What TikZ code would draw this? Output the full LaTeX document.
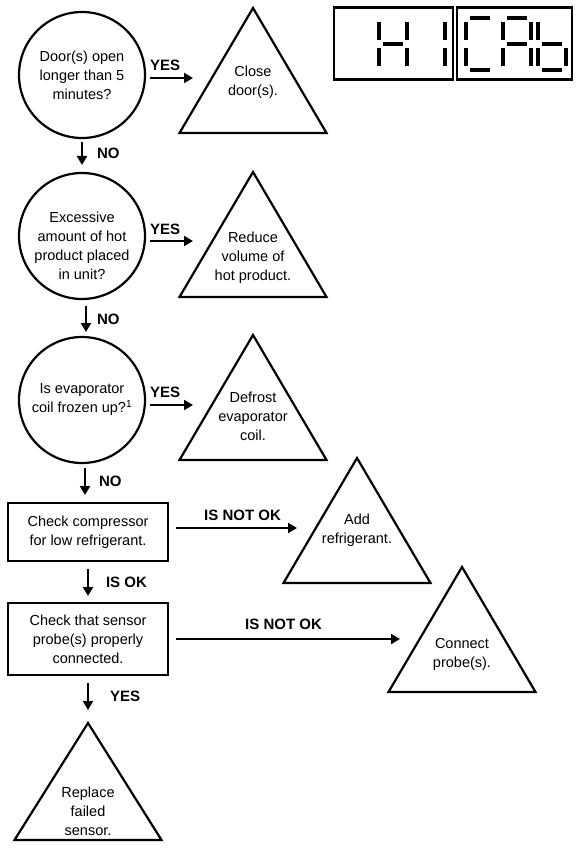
\documentclass[tikz,border=0pt]{standalone}
\usepackage{fontspec}
\setmainfont{Liberation Sans}
\usetikzlibrary{shapes.geometric,arrows.meta}

\tikzset{
	txt/.style={align=center,inner sep=0pt,outer sep=0pt,font=\fontsize{14.5}{19}\selectfont},
	lbl/.style={inner sep=0pt,outer sep=0pt,font=\fontsize{15}{18}\selectfont\bfseries},
	question/.style={txt,draw,circle,line width=2.2pt,minimum size=126},
	stepbox/.style={txt,draw,rectangle,line width=2.2pt,minimum width=160,minimum height=58},
	action/.style={draw,isosceles triangle,isosceles triangle apex angle=60,
		isosceles triangle stretches,shape border rotate=90,
		minimum width=147,minimum height=125,inner sep=0pt,outer sep=0pt,line width=2.2pt},
	arr/.style={line width=2pt,-{Triangle[length=9pt,width=10pt]}},
	display/.style={draw,line width=2.4pt,inner sep=0pt,outer sep=0pt,minimum height=72},
	seg/.style={line width=4.5pt},
	pics/digit/.style={code={
		\foreach \s in {#1}{
			\ifcase\s
			\or \draw[seg] (4,0) -- (24,0);
			\or \draw[seg] (28,4) -- (28,22);
			\or \draw[seg] (28,30) -- (28,48);
			\or \draw[seg] (4,52) -- (24,52);
			\or \draw[seg] (0,30) -- (0,48);
			\or \draw[seg] (0,4) -- (0,22);
			\or \draw[seg] (4,26) -- (24,26);
			\fi
		}
	}}
}

\begin{document}
\begin{tikzpicture}[x=1pt,y=-1pt]
	\useasboundingbox (0,0) rectangle (575,850);

	% code shown on the display
	\node[display,minimum width=119] (dispL) at (393.5,43.5) {};
	\node[display,minimum width=115] (dispR) at (514.5,43.5) {};
	\pic at (379,18) {digit={2,3,5,6,7}};
	\pic at (417,18) {digit={2,3}};
	\pic at (466,18) {digit={1,4,5,6}};
	\pic at (503,18) {digit={1,2,3,5,6,7}};
	\pic at (538,18) {digit={3,4,5,6,7}};

	% questions
	\node[question] (door) at (82,75) {Door(s) open\\longer than 5\\minutes?};
	\node[question] (hot) at (82,236) {};
	\node[txt] (hotTxt) at ([yshift=-10pt]hot.center) {Excessive\\amount of hot\\product placed\\in unit?};
	\node[question] (coil) at (82,400) {Is evaporator\\coil frozen up?\textsuperscript{1}};

	% checks
	\node[stepbox] (comp) at (88,532) {Check compressor\\for low refrigerant.};
	\node[stepbox,minimum height=72] (probe) at (88,639) {Check that sensor\\probe(s) properly\\connected.};

	% actions
	\node[action,anchor=apex] (close) at (253,8) {};
	\node[txt] (closeTxt) at ([yshift=-74pt]close.apex) {Close\\door(s).};
	\node[action,anchor=apex] (reduce) at (253,172) {};
	\node[txt] (reduceTxt) at ([yshift=-86pt]reduce.apex) {Reduce\\volume of\\hot product.};
	\node[action,anchor=apex] (defrost) at (253,335) {};
	\node[txt] (defrostTxt) at ([yshift=-81pt]defrost.apex) {Defrost\\evaporator\\coil.};
	\node[action,anchor=apex] (add) at (357,458) {};
	\node[txt] (addTxt) at ([yshift=-72pt]add.apex) {Add\\refrigerant.};
	\node[action,anchor=apex] (connect) at (462,567) {};
	\node[txt] (connectTxt) at ([yshift=-87pt]connect.apex) {Connect\\probe(s).};
	\node[action,anchor=apex,minimum height=117] (replace) at (88,723) {};
	\node[txt] (replaceTxt) at ([yshift=-88pt]replace.apex) {Replace\\failed\\sensor.};

	% yes branches
	\draw[arr] ([xshift=5pt,yshift=-3pt]door.east) -- ([xshift=-60pt,yshift=-3pt]close.apex |- door.east)
		node[lbl,pos=0,anchor=south west,yshift=7pt] (yesA) {YES};
	\draw[arr] ([xshift=5pt,yshift=-5pt]hot.east) -- ([xshift=-60pt,yshift=-5pt]reduce.apex |- hot.east)
		node[lbl,pos=0,anchor=south west,yshift=6pt] (yesB) {YES};
	\draw[arr] ([xshift=5pt,yshift=-5pt]coil.east) -- ([xshift=-60pt,yshift=-5pt]defrost.apex |- coil.east)
		node[lbl,pos=0,anchor=south west,yshift=7pt] (yesC) {YES};

	% no branches
	\draw[arr] ([yshift=-4pt]door.south) -- ([yshift=8pt]hot.north)
		node[lbl,midway,anchor=west,xshift=15pt] (noA) {NO};
	\draw[arr] ([xshift=4pt,yshift=-7pt]hot.south) -- ([xshift=4pt,yshift=5pt]coil.north)
		node[lbl,midway,anchor=west,xshift=11pt] (noB) {NO};
	\draw[arr] ([xshift=3pt,yshift=-5pt]coil.south) -- ([xshift=-3pt,yshift=8pt]comp.north)
		node[lbl,midway,anchor=west,xshift=14pt] (noC) {NO};

	% check results
	\draw[arr] ([yshift=-8pt]comp.south) -- ([yshift=7pt]probe.north)
		node[lbl,midway,anchor=west,xshift=18pt] (okA) {IS OK};
	\draw[arr] ([xshift=8pt,yshift=4pt]comp.east) -- ([xshift=-60pt,yshift=4pt]add.apex |- comp.east)
		node[lbl,pos=0.55,anchor=south,yshift=7pt] (notOkA) {IS NOT OK};
	\draw[arr] ([xshift=8pt]probe.east) -- ([xshift=-62pt]connect.apex |- probe.east)
		node[lbl,pos=0.48,anchor=south,yshift=9pt] (notOkB) {IS NOT OK};
	\draw[arr] ([yshift=-8pt]probe.south) -- ([yshift=13pt]replace.apex)
		node[lbl,midway,anchor=west,xshift=22pt] (yesD) {YES};
\end{tikzpicture}
\end{document}
